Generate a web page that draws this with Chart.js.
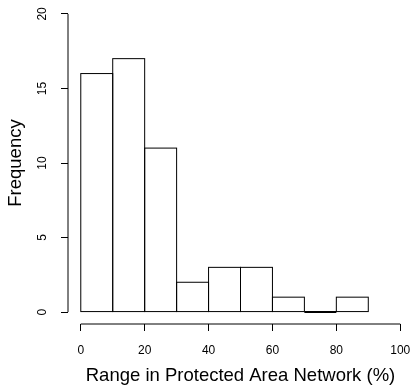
<!DOCTYPE html>
<html>
<head>
<meta charset="utf-8">
<script src="https://cdn.jsdelivr.net/npm/chart.js@4"></script>
<style>
  html, body { margin: 0; padding: 0; background: #fff; }
  #wrap { width: 413px; height: 389px; }
</style>
</head>
<body>
<div id="wrap"><canvas id="hist"></canvas></div>
<script>
// histogram bins (left edges + final right edge) and counts
const breaks = [0, 10, 20, 30, 40, 50, 60, 70, 80, 90];
const counts = [16, 17, 11, 2, 3, 3, 1, 0, 1];
const xTicks = [0, 20, 40, 60, 80, 100];
const yTicks = [0, 5, 10, 15, 20];
const xLabel = 'Range in Protected Area Network (%)';
const yLabel = 'Frequency';

const FONT = "'Liberation Sans', Arial, Helvetica, sans-serif";

// R-style plot region: 4% padding around the axis range
const xLim = [-4, 104];
const yLim = [-0.8, 20.8];

const points = counts.map((c, i) => ({ x: (breaks[i] + breaks[i + 1]) / 2, y: c }));

// outline each bar with a centred 1px stroke, like R's rect()
const barOutline = {
  id: 'barOutline',
  afterDatasetsDraw(chart) {
    const ctx = chart.ctx;
    ctx.save();
    ctx.strokeStyle = '#000';
    chart.getDatasetMeta(0).data.forEach(bar => {
      const { x, y, base, width } = bar.getProps(['x', 'y', 'base', 'width'], true);
      const h = Math.abs(base - y);
      ctx.lineWidth = h < 0.5 ? 2 : 1;
      ctx.strokeRect(x - width / 2, Math.min(y, base), width, h);
    });
    ctx.restore();
  }
};

// axis lines only span the tick range (detached R axes)
const rAxes = {
  id: 'rAxes',
  afterDraw(chart) {
    const { ctx, chartArea, scales: { x, y } } = chart;
    ctx.save();
    ctx.strokeStyle = '#000';
    ctx.lineWidth = 1;
    ctx.beginPath();
    ctx.moveTo(x.getPixelForValue(xTicks[0]), chartArea.bottom);
    ctx.lineTo(x.getPixelForValue(xTicks[xTicks.length - 1]), chartArea.bottom);
    ctx.moveTo(chartArea.left, y.getPixelForValue(yTicks[0]));
    ctx.lineTo(chartArea.left, y.getPixelForValue(yTicks[yTicks.length - 1]));
    ctx.stroke();
    ctx.restore();
  }
};

new Chart(document.getElementById('hist'), {
  type: 'bar',
  data: {
    datasets: [{
      data: points,
      backgroundColor: 'rgba(0,0,0,0)',
      borderWidth: 0,
      barPercentage: 1,
      categoryPercentage: 1
    }]
  },
  options: {
    responsive: true,
    maintainAspectRatio: false,
    animation: false,
    layout: { padding: { top: 2, right: 0, left: 0, bottom: 0 } },
    plugins: { legend: { display: false }, tooltip: { enabled: false } },
    scales: {
      x: {
        type: 'linear',
        min: xLim[0],
        max: xLim[1],
        offset: false,
        afterBuildTicks: s => { s.ticks = xTicks.map(v => ({ value: v })); },
        afterFit: s => { s.height = 65; s.paddingLeft = 0; s.paddingRight = 0; },
        grid: { offset: false, drawOnChartArea: false, tickLength: 7, color: '#000' },
        border: { display: false },
        ticks: { color: '#000', font: { family: FONT, size: 12 }, padding: 12, maxRotation: 0, autoSkip: false },
        title: { display: true, text: xLabel, color: '#000', font: { family: FONT, size: 18.5 }, padding: { top: 0, bottom: 2 } }
      },
      y: {
        min: yLim[0],
        max: yLim[1],
        afterBuildTicks: s => { s.ticks = yTicks.map(v => ({ value: v })); },
        afterFit: s => { s.width = 68; s.paddingTop = 0; s.paddingBottom = 0; },
        grid: { drawOnChartArea: false, tickLength: 7, color: '#000' },
        border: { display: false },
        ticks: { color: '#000', font: { family: FONT, size: 12 }, padding: 12, minRotation: 90, maxRotation: 90, crossAlign: 'center', autoSkip: false },
        title: { display: true, text: yLabel, color: '#000', font: { family: FONT, size: 18.5 }, padding: { top: 5, bottom: 0 } }
      }
    }
  },
  plugins: [barOutline, rAxes]
});
</script>
</body>
</html>
